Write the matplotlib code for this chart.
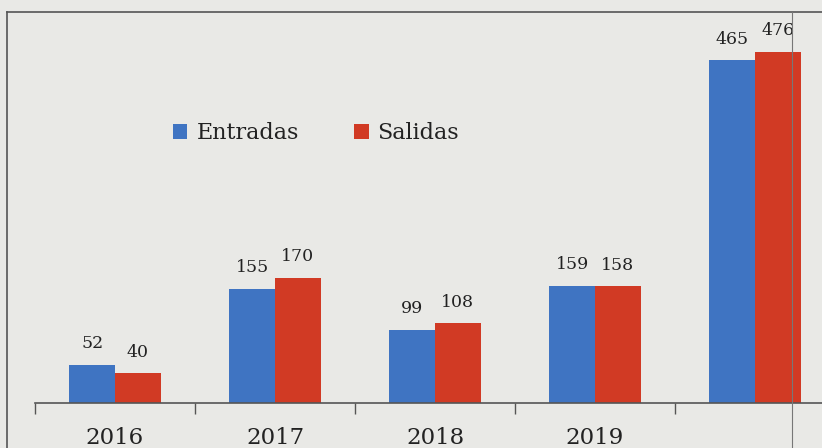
import numpy as np
import matplotlib.pyplot as plt
from matplotlib.lines import Line2D

# === Data ===
years = ["2016", "2017", "2018", "2019", "2020"]
entradas = [52, 155, 99, 159, 465]
salidas = [40, 170, 108, 158, 476]

blue = "#3f74c2"
red = "#d13a24"
bg = "#e9e9e6"
serif = ["DejaVu Serif"]

fig = plt.figure(figsize=(8.22, 4.48), dpi=100)
fig.patch.set_facecolor(bg)

# axes placed so the last year is cut off at the right like the scan
ax = fig.add_axes([35 / 822, 45 / 448, 787 / 822, 1 - 45 / 448])
ax.set_facecolor(bg)

x = np.arange(len(years))
w = 0.285
b1 = ax.bar(x - w / 2, entradas, w, color=blue, label="Entradas")
b2 = ax.bar(x + w / 2, salidas, w, color=red, label="Salidas")

for bars in (b1, b2):
    for rect in bars:
        ax.annotate(str(int(rect.get_height())),
                    (rect.get_x() + rect.get_width() / 2, rect.get_height()),
                    xytext=(0, 9), textcoords="offset points",
                    ha="center", va="bottom", fontsize=12.5, family=serif,
                    color="#222222")

ax.set_xlim(-0.5, -0.5 + 787 / 160)
ax.set_ylim(0, 403 / 0.7376)

# year ticks sit on the boundaries, labels in the middle (last one is cut off in the scan)
ax.set_xticks(np.arange(len(years)) - 0.5)
ax.set_xticklabels([])
ax.set_xticks(x[:-1], minor=True)
ax.set_xticklabels(years[:-1], minor=True, fontsize=16.5, family=serif, color="#222222")
ax.tick_params(axis="x", which="minor", length=0, pad=17)
ax.tick_params(axis="x", which="major", direction="out", length=8, width=1, color="#555555")
ax.set_yticks([])

for s in ["top", "right", "left"]:
    ax.spines[s].set_visible(False)
ax.spines["bottom"].set_color("#555555")
ax.spines["bottom"].set_linewidth(1.2)

leg = ax.legend(loc="center left", bbox_to_anchor=(138 / 787, 1 - 133 / 403),
                ncol=2, frameon=False, borderpad=0, borderaxespad=0,
                handlelength=0.65, handleheight=0.65,
                handletextpad=0.4, columnspacing=2.5,
                prop={"family": serif, "size": 16})
for t in leg.get_texts():
    t.set_color("#222222")

# outer frame of the printed chart
fig.add_artist(Line2D([7 / 822, 7 / 822], [0, 1 - 12 / 448], transform=fig.transFigure,
                      color="#555555", lw=1.2))
fig.add_artist(Line2D([7 / 822, 1], [1 - 12 / 448, 1 - 12 / 448], transform=fig.transFigure,
                      color="#555555", lw=1.2))
fig.add_artist(Line2D([792 / 822, 792 / 822], [0, 1 - 12 / 448], transform=fig.transFigure,
                      color="#777777", lw=0.8, zorder=5))

fig.savefig("out.png", dpi=100, facecolor=bg)
